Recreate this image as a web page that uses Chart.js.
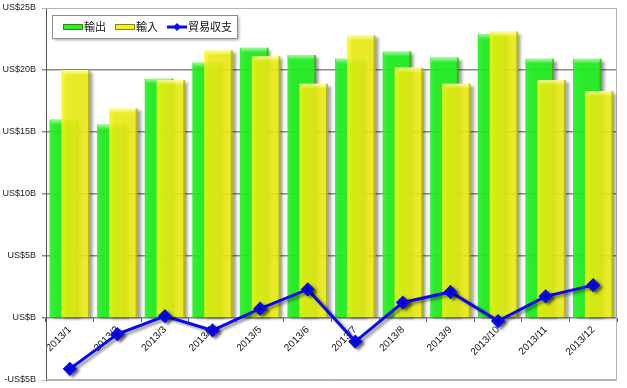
<!DOCTYPE html>
<html>
<head>
<meta charset="utf-8">
<script src="https://cdn.jsdelivr.net/npm/chart.js@4/dist/chart.umd.min.js"></script>
<style>
  html, body { margin: 0; padding: 0; background: #fff; }
  #wrap { width: 627px; height: 388px; }
</style>
</head>
<body>
<div id="wrap"><canvas id="tradeChart"></canvas></div>
<script>
// months on the x axis
const months = ['2013/1', '2013/2', '2013/3', '2013/4', '2013/5', '2013/6',
                '2013/7', '2013/8', '2013/9', '2013/10', '2013/11', '2013/12'];
// values in billions of US$
const exportsB = [16.0, 15.6, 19.3, 20.6, 21.8, 21.2, 20.9, 21.5, 21.0, 22.9, 20.9, 20.9];
const importsB = [20.0, 16.9, 19.2, 21.6, 21.1, 18.9, 22.8, 20.2, 18.9, 23.1, 19.2, 18.3];
const balanceB = [-4.1, -1.3, 0.15, -1.0, 0.75, 2.3, -1.9, 1.25, 2.1, -0.25, 1.75, 2.65];
const seriesNames = ['輸出', '輸入', '貿易収支'];
const yMin = -5, yMax = 25, yStep = 5;

const xFont = { family: 'Liberation Sans, Arial, sans-serif', size: 10 };
const yFont = { family: 'Liberation Sans, Arial, sans-serif', size: 9 };

function usdLabel(v) {
    if (v === 0) return 'US$B';
    return (v < 0 ? '-US$' + (-v) : 'US$' + v) + 'B';
}

// plot border (top / right / bottom) in light gray
const plotBorder = {
    id: 'plotBorder',
    beforeDatasetsDraw(chart) {
        const { ctx, chartArea: a } = chart;
        ctx.save();
        ctx.strokeStyle = '#b4b4b4';
        ctx.lineWidth = 1;
        ctx.beginPath();
        ctx.moveTo(a.left, a.top + 0.5);
        ctx.lineTo(a.right - 0.5, a.top + 0.5);
        ctx.lineTo(a.right - 0.5, a.bottom - 0.5);
        ctx.lineTo(a.left, a.bottom - 0.5);
        ctx.stroke();
        ctx.restore();
    }
};

function setShadow(ctx) {
    ctx.shadowColor = 'rgba(0,0,0,0.45)';
    ctx.shadowOffsetX = 3;
    ctx.shadowOffsetY = 2;
    ctx.shadowBlur = 3;
}

// light top strip and darker right edge on each bar
function bevelBars(ctx, meta) {
    ctx.save();
    meta.data.forEach(bar => {
        const left = bar.x - bar.width / 2;
        const right = bar.x + bar.width / 2;
        const g = ctx.createLinearGradient(0, bar.y, 0, bar.y + 5);
        g.addColorStop(0, 'rgba(255,255,255,0.55)');
        g.addColorStop(1, 'rgba(255,255,255,0)');
        ctx.fillStyle = g;
        ctx.fillRect(left + 1, bar.y, bar.width - 2, 5);
        ctx.fillStyle = 'rgba(90,90,0,0.35)';
        ctx.fillRect(right - 2, bar.y, 2, bar.base - bar.y);
    });
    ctx.restore();
}

// exports sit in the left slot but must be painted under the imports,
// so they are drawn here first and skipped in the normal pass
const shading = {
    id: 'shading',
    beforeDatasetsDraw(chart) {
        const meta = chart.getDatasetMeta(0);
        const ctx = chart.ctx;
        ctx.save();
        setShadow(ctx);
        meta.controller.draw();
        ctx.restore();
        bevelBars(ctx, meta);
    },
    beforeDatasetDraw(chart, args) {
        if (args.index === 0) return false;
        chart.ctx.save();
        setShadow(chart.ctx);
    },
    afterDatasetDraw(chart, args) {
        chart.ctx.restore();
        if (args.meta.type === 'bar') bevelBars(chart.ctx, args.meta);
    }
};

// legend drawn inside the plot, top left
const insideLegend = {
    id: 'insideLegend',
    afterDraw(chart) {
        const ctx = chart.ctx;
        const a = chart.chartArea;
        const x0 = a.left + 6, y0 = a.top + 7, w = 185, h = 23;
        ctx.save();
        ctx.shadowColor = 'rgba(0,0,0,0.35)';
        ctx.shadowOffsetX = 2;
        ctx.shadowOffsetY = 2;
        ctx.shadowBlur = 3;
        ctx.fillStyle = '#fff';
        ctx.fillRect(x0, y0, w, h);
        ctx.shadowColor = 'transparent';
        ctx.strokeStyle = '#8c8c8c';
        ctx.lineWidth = 1;
        ctx.strokeRect(x0 + 0.5, y0 + 0.5, w, h);

        ctx.font = '11px "Noto Sans CJK JP"';
        ctx.textBaseline = 'middle';
        const cy = y0 + h / 2 + 0.5;
        let x = x0 + 11;
        chart.data.datasets.forEach(ds => {
            if (ds.type === 'line') {
                ctx.strokeStyle = ds.borderColor;
                ctx.lineWidth = 3;
                ctx.beginPath();
                ctx.moveTo(x, cy);
                ctx.lineTo(x + 20, cy);
                ctx.stroke();
                ctx.fillStyle = ds.borderColor;
                ctx.beginPath();
                ctx.moveTo(x + 10, cy - 4);
                ctx.lineTo(x + 14, cy);
                ctx.lineTo(x + 10, cy + 4);
                ctx.lineTo(x + 6, cy);
                ctx.closePath();
                ctx.fill();
            } else {
                ctx.fillStyle = ds.swatchColor;
                ctx.fillRect(x, cy - 3, 20, 6);
                ctx.strokeStyle = 'rgba(60,60,0,0.6)';
                ctx.lineWidth = 1;
                ctx.strokeRect(x + 0.5, cy - 2.5, 19, 5);
            }
            x += 21;
            ctx.fillStyle = '#111';
            ctx.fillText(ds.label, x, cy);
            x += ctx.measureText(ds.label).width + 9;
        });
        ctx.restore();
    }
};

const ctx = document.getElementById('tradeChart').getContext('2d');
const tradeChart = new Chart(ctx, {
    data: {
        labels: months,
        datasets: [
            {
                type: 'bar',
                label: seriesNames[0],
                data: exportsB,
                backgroundColor: 'rgba(34,240,34,0.92)',
                swatchColor: '#2af02a',
                categoryPercentage: 0.5,
                barPercentage: 2.4,
                order: 1
            },
            {
                type: 'bar',
                label: seriesNames[1],
                data: importsB,
                backgroundColor: 'rgba(246,248,20,0.85)',
                swatchColor: '#f2f21e',
                categoryPercentage: 0.5,
                barPercentage: 2.4,
                order: 2
            },
            {
                type: 'line',
                label: seriesNames[2],
                data: balanceB,
                borderColor: '#0808f2',
                backgroundColor: '#0808f2',
                borderWidth: 3,
                pointStyle: 'rectRot',
                pointRadius: 5,
                pointHoverRadius: 5,
                tension: 0,
                order: 0
            }
        ]
    },
    options: {
        responsive: true,
        maintainAspectRatio: false,
        animation: false,
        layout: { padding: { top: 7, right: 10, bottom: 8, left: 0 } },
        plugins: {
            legend: { display: false },
            tooltip: { enabled: false }
        },
        scales: {
            x: {
                position: { y: 0 },
                offset: true,
                afterFit(scale) { scale.paddingLeft = 0; scale.paddingRight = 0; },
                grid: {
                    display: true,
                    drawOnChartArea: false,
                    drawTicks: true,
                    tickLength: 4,
                    color: '#666'
                },
                border: { display: false },
                ticks: {
                    minRotation: 45,
                    maxRotation: 45,
                    autoSkip: false,
                    padding: 2,
                    color: '#111',
                    font: xFont
                }
            },
            y: {
                min: yMin,
                max: yMax,
                afterFit(scale) {
                    scale.width = 46;
                    scale.paddingTop = 0;
                    scale.paddingBottom = 0;
                },
                ticks: {
                    stepSize: yStep,
                    padding: 6,
                    color: '#222',
                    font: yFont,
                    callback: v => usdLabel(v)
                },
                grid: {
                    tickLength: 4,
                    color: c => (c.tick && (c.tick.value === yMax || c.tick.value === yMin)) ? '#b4b4b4' : '#8a8a8a',
                    lineWidth: c => (c.tick && (c.tick.value === yMax || c.tick.value === yMin)) ? 1 : 1.5
                },
                border: { display: true, color: '#555', width: 1 }
            }
        }
    },
    plugins: [plotBorder, shading, insideLegend]
});
</script>
</body>
</html>
